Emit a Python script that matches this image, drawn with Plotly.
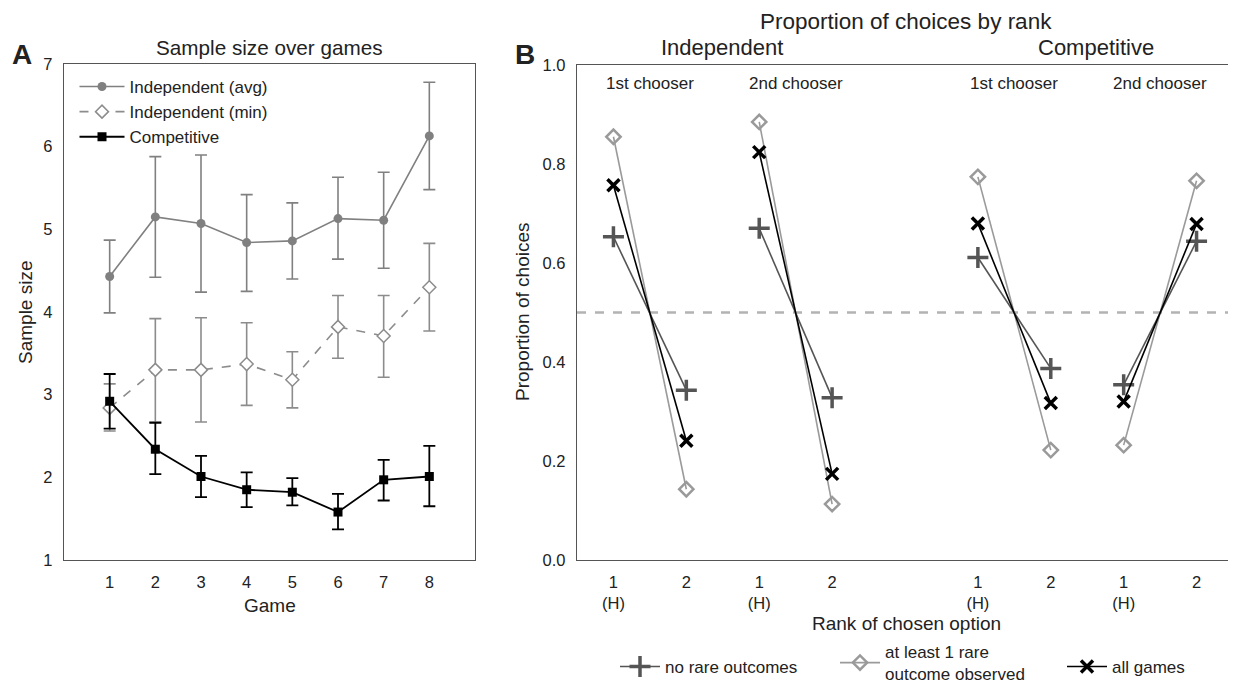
import plotly.graph_objects as go

W, H = 1236, 686
OFF = 8  # page body margin offset (px)

# ---------------- Panel A data ----------------
games = [1, 2, 3, 4, 5, 6, 7, 8]
indep_avg = [4.43, 5.15, 5.07, 4.84, 4.86, 5.13, 5.11, 6.13]
indep_avg_hi = [4.87, 5.88, 5.90, 5.42, 5.32, 5.63, 5.69, 6.78]
indep_avg_lo = [3.99, 4.42, 4.24, 4.25, 4.40, 4.64, 4.53, 5.48]
indep_min = [2.84, 3.30, 3.30, 3.37, 3.18, 3.82, 3.71, 4.30]
indep_min_hi = [3.13, 3.92, 3.93, 3.87, 3.52, 4.20, 4.20, 4.83]
indep_min_lo = [2.56, 2.67, 2.67, 2.87, 2.84, 3.44, 3.21, 3.77]
compet = [2.92, 2.34, 2.01, 1.85, 1.82, 1.58, 1.97, 2.01]
compet_hi = [3.25, 2.66, 2.26, 2.06, 1.99, 1.80, 2.21, 2.38]
compet_lo = [2.59, 2.04, 1.76, 1.64, 1.66, 1.37, 1.72, 1.65]

# ---------------- Panel B data ----------------
groups = ["Independent 1st chooser", "Independent 2nd chooser",
          "Competitive 1st chooser", "Competitive 2nd chooser"]
chooser_labels = ["1st chooser", "2nd chooser", "1st chooser", "2nd chooser"]
rank_labels = ["1<br>(H)", "2"]
no_rare_r1 = [0.653, 0.670, 0.611, 0.354]
no_rare_r2 = [0.343, 0.328, 0.387, 0.644]
rare_r1 = [0.855, 0.885, 0.774, 0.232]
rare_r2 = [0.143, 0.113, 0.222, 0.766]
all_r1 = [0.757, 0.824, 0.680, 0.320]
all_r2 = [0.241, 0.174, 0.317, 0.679]

group_pos = [0, 2, 5, 7]

FONT = "Liberation Sans, Arial, sans-serif"
TXT = "#222222"


def PX(px):
    return (px - OFF) / W


def PY(py):
    return 1 - (py - OFF) / H


fig = go.Figure()


def err(vals, hi, lo):
    return dict(type="data", symmetric=False,
                array=[h - v for h, v in zip(hi, vals)],
                arrayminus=[v - l for v, l in zip(vals, lo)])


fig.add_trace(go.Scatter(
    x=games, y=indep_avg, mode="lines+markers", name="Independent (avg)",
    line=dict(color="#808080", width=1.6),
    marker=dict(symbol="circle", size=9, color="#808080"),
    error_y=dict(**err(indep_avg, indep_avg_hi, indep_avg_lo), color="#808080", thickness=1.6, width=6),
    xaxis="x", yaxis="y", legend="legend"))
fig.add_trace(go.Scatter(
    x=games, y=indep_min, mode="lines+markers", name="Independent (min)",
    line=dict(color="#8c8c8c", width=1.6, dash="dash"),
    marker=dict(symbol="diamond", size=10, color="white", line=dict(color="#8c8c8c", width=1.5)),
    error_y=dict(**err(indep_min, indep_min_hi, indep_min_lo), color="#8c8c8c", thickness=1.6, width=6),
    xaxis="x", yaxis="y", legend="legend"))
fig.add_trace(go.Scatter(
    x=games, y=compet, mode="lines+markers", name="Competitive",
    line=dict(color="black", width=1.8),
    marker=dict(symbol="square", size=9, color="black"),
    error_y=dict(**err(compet, compet_hi, compet_lo), color="black", thickness=1.8, width=6),
    xaxis="x", yaxis="y", legend="legend"))


def pair_series(r1, r2):
    xs, ys = [], []
    for g, a, b in zip(group_pos, r1, r2):
        xs += [g, g + 1, None]
        ys += [a, b, None]
    return xs, ys


series_b = [
    ("no rare outcomes", no_rare_r1, no_rare_r2, "#555555",
     dict(symbol="cross-thin", size=15, line=dict(color="#555555", width=3.5)), "legend2"),
    ("at least 1 rare<br>outcome observed", rare_r1, rare_r2, "#9a9a9a",
     dict(symbol="diamond-open", size=11, color="#9a9a9a", line=dict(color="#9a9a9a", width=2.5)), "legend3"),
    ("all games", all_r1, all_r2, "black",
     dict(symbol="x-thin", size=12, line=dict(color="black", width=3.5)), "legend4"),
]
for name, r1, r2, col, mk, lg in series_b:
    xs, ys = pair_series(r1, r2)
    fig.add_trace(go.Scatter(
        x=xs, y=ys, mode="lines+markers", name=name, connectgaps=False,
        line=dict(color=col, width=1.6), marker=mk,
        xaxis="x2", yaxis="y2", legend=lg))

# dashed 0.5 line
fig.add_shape(type="line", xref="x2 domain", yref="y2", x0=0, x1=1, y0=0.5, y1=0.5,
              line=dict(color="#b3b3b3", width=2.5, dash="dash"), layer="below")

tickfont = dict(family=FONT, size=16.5, color=TXT)
axcommon = dict(showgrid=False, zeroline=False, showline=True, mirror=True,
                linecolor="#555555", linewidth=1.3, ticks="outside", ticklen=7,
                tickcolor="rgba(0,0,0,0)", tickfont=tickfont)

y_bot, y_top = PY(560), PY(64)


def bottom_leg(px, py):
    return dict(orientation="v", yanchor="middle", xanchor="left", x=PX(px), y=PY(py),
                bgcolor="rgba(0,0,0,0)", font=dict(size=17), itemwidth=40)


fig.update_layout(
    width=W, height=H, margin=dict(l=0, r=0, t=0, b=0, autoexpand=False),
    paper_bgcolor="white", plot_bgcolor="white",
    font=dict(family=FONT, size=17, color=TXT),
    xaxis=dict(domain=[PX(64), PX(475)], range=[0, 9], tickvals=games, anchor="y", **axcommon),
    yaxis=dict(domain=[y_bot, y_top], range=[1, 7], dtick=1, anchor="x", **axcommon),
    xaxis2=dict(domain=[PX(577), PX(1233)], range=[-0.5, 8.5], anchor="y2",
                tickvals=[g + k for g in group_pos for k in (0, 1)],
                ticktext=[rank_labels[k] for g in group_pos for k in (0, 1)], **axcommon),
    yaxis2=dict(domain=[y_bot, PY(65)], range=[0, 1], tickvals=[0, 0.2, 0.4, 0.6, 0.8, 1.0],
                ticktext=["0.0", "0.2", "0.4", "0.6", "0.8", "1.0"], anchor="x2", **axcommon),
    legend=dict(x=PX(74.5), y=PY(69), xanchor="left", yanchor="top",
                bgcolor="rgba(0,0,0,0)", font=dict(size=17), itemwidth=45),
    legend2=bottom_leg(615, 667),
    legend3=bottom_leg(835, 663),
    legend4=bottom_leg(1062, 667),
    showlegend=True,
)


def pann(text, px, py, size, **kw):
    d = dict(text=text, x=PX(px), y=PY(py), xref="paper", yref="paper",
             showarrow=False, font=dict(size=size), xanchor="center", yanchor="middle")
    d.update(kw)
    return d


ann = [
    pann("Sample size over games", (64 + 475) / 2, 48, 20.7),
    pann("Proportion of choices by rank", 906, OFF, 22.5, yanchor="top", borderpad=0),
    pann("Independent", 722, 48, 22),
    pann("Competitive", 1096, 48, 22),
    pann("<b>A</b>", 22, 55, 28),
    pann("<b>B</b>", 525, 55, 28),
    pann("Game", 270, 605, 19),
    pann("Rank of chosen option", 906, 623, 19),
    pann("Sample size", 25, 312, 19, textangle=-90),
    pann("Proportion of choices", 522, 312, 19, textangle=-90),
]
for g, lab in zip(group_pos, chooser_labels):
    ann.append(dict(text=lab, x=g + 0.5, y=PY(84), xref="x2", yref="paper",
                    showarrow=False, font=dict(size=17), xanchor="center", yanchor="middle"))
fig.update_layout(annotations=ann)

fig.write_html("out.html")
